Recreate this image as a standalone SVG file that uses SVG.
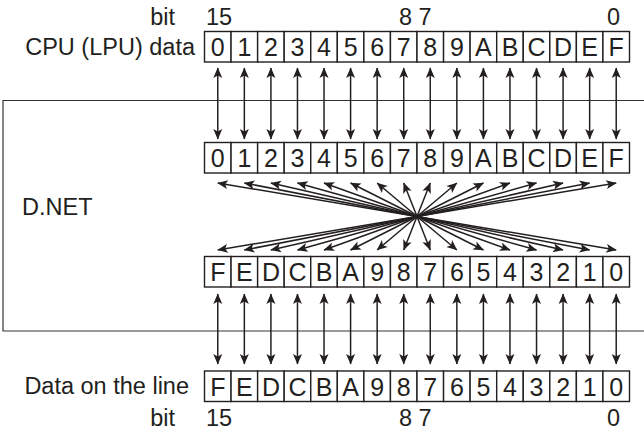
<svg xmlns="http://www.w3.org/2000/svg" width="644" height="432" viewBox="0 0 644 432">
<style>
.c rect{fill:#fff;stroke:#231f20;stroke-width:1.4}
.c text,.t{font-family:"Liberation Sans",Arial,sans-serif;fill:#231f20}
.c text{text-anchor:middle;font-size:25px}
.t{font-size:23.5px}
.a{stroke:#231f20;stroke-width:1.5;fill:none;marker-start:url(#ah);marker-end:url(#ah)}
.f{stroke:#333;stroke-width:1.2;fill:none}
</style>
<defs>
<marker id="ah" viewBox="-11 -6 12 12" refX="0" refY="0" markerWidth="12" markerHeight="12" markerUnits="userSpaceOnUse" orient="auto-start-reverse">
<path d="M0.5,0 L-10,-4.5 L-7.5,0 L-10,4.5 Z" fill="#231f20"/>
</marker>
</defs>
<rect width="644" height="432" fill="#fff"/>
<g id="frame"><path class="f" d="M644,100.5 H3 V331 H644"/><text class="t" x="22" y="215">D.NET</text></g>
<g id="labels">
<text class="t" x="175" y="25" text-anchor="end">bit</text>
<text class="t" x="206" y="25">15</text>
<text class="t" x="399" y="25">8 7</text>
<text class="t" x="607" y="25">0</text>
<text class="t" x="195" y="55" text-anchor="end">CPU (LPU) data</text>
<text class="t" x="189" y="394" text-anchor="end">Data on the line</text>
<text class="t" x="175" y="426" text-anchor="end">bit</text>
<text class="t" x="206" y="426">15</text>
<text class="t" x="399" y="426">8 7</text>
<text class="t" x="607" y="426">0</text>
</g>
<g id="row1">
<g id="r1-0" class="c"><rect x="204.5" y="31.5" width="26.56" height="30.5"/><text x="217.78" y="56">0</text></g>
<g id="r1-1" class="c"><rect x="231.06" y="31.5" width="26.56" height="30.5"/><text x="244.34" y="56">1</text></g>
<g id="r1-2" class="c"><rect x="257.63" y="31.5" width="26.56" height="30.5"/><text x="270.91" y="56">2</text></g>
<g id="r1-3" class="c"><rect x="284.19" y="31.5" width="26.56" height="30.5"/><text x="297.47" y="56">3</text></g>
<g id="r1-4" class="c"><rect x="310.75" y="31.5" width="26.56" height="30.5"/><text x="324.03" y="56">4</text></g>
<g id="r1-5" class="c"><rect x="337.31" y="31.5" width="26.56" height="30.5"/><text x="350.59" y="56">5</text></g>
<g id="r1-6" class="c"><rect x="363.88" y="31.5" width="26.56" height="30.5"/><text x="377.16" y="56">6</text></g>
<g id="r1-7" class="c"><rect x="390.44" y="31.5" width="26.56" height="30.5"/><text x="403.72" y="56">7</text></g>
<g id="r1-8" class="c"><rect x="417" y="31.5" width="26.56" height="30.5"/><text x="430.28" y="56">8</text></g>
<g id="r1-9" class="c"><rect x="443.56" y="31.5" width="26.56" height="30.5"/><text x="456.84" y="56">9</text></g>
<g id="r1-A" class="c"><rect x="470.13" y="31.5" width="26.56" height="30.5"/><text x="483.41" y="56">A</text></g>
<g id="r1-B" class="c"><rect x="496.69" y="31.5" width="26.56" height="30.5"/><text x="509.97" y="56">B</text></g>
<g id="r1-C" class="c"><rect x="523.25" y="31.5" width="26.56" height="30.5"/><text x="536.53" y="56">C</text></g>
<g id="r1-D" class="c"><rect x="549.81" y="31.5" width="26.56" height="30.5"/><text x="563.09" y="56">D</text></g>
<g id="r1-E" class="c"><rect x="576.38" y="31.5" width="26.56" height="30.5"/><text x="589.66" y="56">E</text></g>
<g id="r1-F" class="c"><rect x="602.94" y="31.5" width="26.56" height="30.5"/><text x="616.22" y="56">F</text></g>
</g>
<g id="row2">
<g id="r2-0" class="c"><rect x="204.5" y="142.5" width="26.56" height="30.5"/><text x="217.78" y="167">0</text></g>
<g id="r2-1" class="c"><rect x="231.06" y="142.5" width="26.56" height="30.5"/><text x="244.34" y="167">1</text></g>
<g id="r2-2" class="c"><rect x="257.63" y="142.5" width="26.56" height="30.5"/><text x="270.91" y="167">2</text></g>
<g id="r2-3" class="c"><rect x="284.19" y="142.5" width="26.56" height="30.5"/><text x="297.47" y="167">3</text></g>
<g id="r2-4" class="c"><rect x="310.75" y="142.5" width="26.56" height="30.5"/><text x="324.03" y="167">4</text></g>
<g id="r2-5" class="c"><rect x="337.31" y="142.5" width="26.56" height="30.5"/><text x="350.59" y="167">5</text></g>
<g id="r2-6" class="c"><rect x="363.88" y="142.5" width="26.56" height="30.5"/><text x="377.16" y="167">6</text></g>
<g id="r2-7" class="c"><rect x="390.44" y="142.5" width="26.56" height="30.5"/><text x="403.72" y="167">7</text></g>
<g id="r2-8" class="c"><rect x="417" y="142.5" width="26.56" height="30.5"/><text x="430.28" y="167">8</text></g>
<g id="r2-9" class="c"><rect x="443.56" y="142.5" width="26.56" height="30.5"/><text x="456.84" y="167">9</text></g>
<g id="r2-A" class="c"><rect x="470.13" y="142.5" width="26.56" height="30.5"/><text x="483.41" y="167">A</text></g>
<g id="r2-B" class="c"><rect x="496.69" y="142.5" width="26.56" height="30.5"/><text x="509.97" y="167">B</text></g>
<g id="r2-C" class="c"><rect x="523.25" y="142.5" width="26.56" height="30.5"/><text x="536.53" y="167">C</text></g>
<g id="r2-D" class="c"><rect x="549.81" y="142.5" width="26.56" height="30.5"/><text x="563.09" y="167">D</text></g>
<g id="r2-E" class="c"><rect x="576.38" y="142.5" width="26.56" height="30.5"/><text x="589.66" y="167">E</text></g>
<g id="r2-F" class="c"><rect x="602.94" y="142.5" width="26.56" height="30.5"/><text x="616.22" y="167">F</text></g>
</g>
<g id="row3">
<g id="r3-F" class="c"><rect x="204.5" y="256.5" width="26.56" height="30.5"/><text x="217.78" y="281">F</text></g>
<g id="r3-E" class="c"><rect x="231.06" y="256.5" width="26.56" height="30.5"/><text x="244.34" y="281">E</text></g>
<g id="r3-D" class="c"><rect x="257.63" y="256.5" width="26.56" height="30.5"/><text x="270.91" y="281">D</text></g>
<g id="r3-C" class="c"><rect x="284.19" y="256.5" width="26.56" height="30.5"/><text x="297.47" y="281">C</text></g>
<g id="r3-B" class="c"><rect x="310.75" y="256.5" width="26.56" height="30.5"/><text x="324.03" y="281">B</text></g>
<g id="r3-A" class="c"><rect x="337.31" y="256.5" width="26.56" height="30.5"/><text x="350.59" y="281">A</text></g>
<g id="r3-9" class="c"><rect x="363.88" y="256.5" width="26.56" height="30.5"/><text x="377.16" y="281">9</text></g>
<g id="r3-8" class="c"><rect x="390.44" y="256.5" width="26.56" height="30.5"/><text x="403.72" y="281">8</text></g>
<g id="r3-7" class="c"><rect x="417" y="256.5" width="26.56" height="30.5"/><text x="430.28" y="281">7</text></g>
<g id="r3-6" class="c"><rect x="443.56" y="256.5" width="26.56" height="30.5"/><text x="456.84" y="281">6</text></g>
<g id="r3-5" class="c"><rect x="470.13" y="256.5" width="26.56" height="30.5"/><text x="483.41" y="281">5</text></g>
<g id="r3-4" class="c"><rect x="496.69" y="256.5" width="26.56" height="30.5"/><text x="509.97" y="281">4</text></g>
<g id="r3-3" class="c"><rect x="523.25" y="256.5" width="26.56" height="30.5"/><text x="536.53" y="281">3</text></g>
<g id="r3-2" class="c"><rect x="549.81" y="256.5" width="26.56" height="30.5"/><text x="563.09" y="281">2</text></g>
<g id="r3-1" class="c"><rect x="576.38" y="256.5" width="26.56" height="30.5"/><text x="589.66" y="281">1</text></g>
<g id="r3-0" class="c"><rect x="602.94" y="256.5" width="26.56" height="30.5"/><text x="616.22" y="281">0</text></g>
</g>
<g id="row4">
<g id="r4-F" class="c"><rect x="204.5" y="371" width="26.56" height="30.5"/><text x="217.78" y="395.5">F</text></g>
<g id="r4-E" class="c"><rect x="231.06" y="371" width="26.56" height="30.5"/><text x="244.34" y="395.5">E</text></g>
<g id="r4-D" class="c"><rect x="257.63" y="371" width="26.56" height="30.5"/><text x="270.91" y="395.5">D</text></g>
<g id="r4-C" class="c"><rect x="284.19" y="371" width="26.56" height="30.5"/><text x="297.47" y="395.5">C</text></g>
<g id="r4-B" class="c"><rect x="310.75" y="371" width="26.56" height="30.5"/><text x="324.03" y="395.5">B</text></g>
<g id="r4-A" class="c"><rect x="337.31" y="371" width="26.56" height="30.5"/><text x="350.59" y="395.5">A</text></g>
<g id="r4-9" class="c"><rect x="363.88" y="371" width="26.56" height="30.5"/><text x="377.16" y="395.5">9</text></g>
<g id="r4-8" class="c"><rect x="390.44" y="371" width="26.56" height="30.5"/><text x="403.72" y="395.5">8</text></g>
<g id="r4-7" class="c"><rect x="417" y="371" width="26.56" height="30.5"/><text x="430.28" y="395.5">7</text></g>
<g id="r4-6" class="c"><rect x="443.56" y="371" width="26.56" height="30.5"/><text x="456.84" y="395.5">6</text></g>
<g id="r4-5" class="c"><rect x="470.13" y="371" width="26.56" height="30.5"/><text x="483.41" y="395.5">5</text></g>
<g id="r4-4" class="c"><rect x="496.69" y="371" width="26.56" height="30.5"/><text x="509.97" y="395.5">4</text></g>
<g id="r4-3" class="c"><rect x="523.25" y="371" width="26.56" height="30.5"/><text x="536.53" y="395.5">3</text></g>
<g id="r4-2" class="c"><rect x="549.81" y="371" width="26.56" height="30.5"/><text x="563.09" y="395.5">2</text></g>
<g id="r4-1" class="c"><rect x="576.38" y="371" width="26.56" height="30.5"/><text x="589.66" y="395.5">1</text></g>
<g id="r4-0" class="c"><rect x="602.94" y="371" width="26.56" height="30.5"/><text x="616.22" y="395.5">0</text></g>
</g>
<g id="connectors">
<path class="a" d="M217.78,68 V139"/><path class="a" d="M244.34,68 V139"/><path class="a" d="M270.91,68 V139"/><path class="a" d="M297.47,68 V139"/>
<path class="a" d="M324.03,68 V139"/><path class="a" d="M350.59,68 V139"/><path class="a" d="M377.16,68 V139"/><path class="a" d="M403.72,68 V139"/>
<path class="a" d="M430.28,68 V139"/><path class="a" d="M456.84,68 V139"/><path class="a" d="M483.41,68 V139"/><path class="a" d="M509.97,68 V139"/>
<path class="a" d="M536.53,68 V139"/><path class="a" d="M563.09,68 V139"/><path class="a" d="M589.66,68 V139"/><path class="a" d="M616.22,68 V139"/>
<path class="a" d="M217.78,183 L616.22,250"/><path class="a" d="M244.34,183 L589.66,250"/><path class="a" d="M270.91,183 L563.09,250"/><path class="a" d="M297.47,183 L536.53,250"/>
<path class="a" d="M324.03,183 L509.97,250"/><path class="a" d="M350.59,183 L483.41,250"/><path class="a" d="M377.16,183 L456.84,250"/><path class="a" d="M403.72,183 L430.28,250"/>
<path class="a" d="M430.28,183 L403.72,250"/><path class="a" d="M456.84,183 L377.16,250"/><path class="a" d="M483.41,183 L350.59,250"/><path class="a" d="M509.97,183 L324.03,250"/>
<path class="a" d="M536.53,183 L297.47,250"/><path class="a" d="M563.09,183 L270.91,250"/><path class="a" d="M589.66,183 L244.34,250"/><path class="a" d="M616.22,183 L217.78,250"/>
<path class="a" d="M217.78,294 V364"/><path class="a" d="M244.34,294 V364"/><path class="a" d="M270.91,294 V364"/><path class="a" d="M297.47,294 V364"/>
<path class="a" d="M324.03,294 V364"/><path class="a" d="M350.59,294 V364"/><path class="a" d="M377.16,294 V364"/><path class="a" d="M403.72,294 V364"/>
<path class="a" d="M430.28,294 V364"/><path class="a" d="M456.84,294 V364"/><path class="a" d="M483.41,294 V364"/><path class="a" d="M509.97,294 V364"/>
<path class="a" d="M536.53,294 V364"/><path class="a" d="M563.09,294 V364"/><path class="a" d="M589.66,294 V364"/><path class="a" d="M616.22,294 V364"/>
</g>
</svg>
